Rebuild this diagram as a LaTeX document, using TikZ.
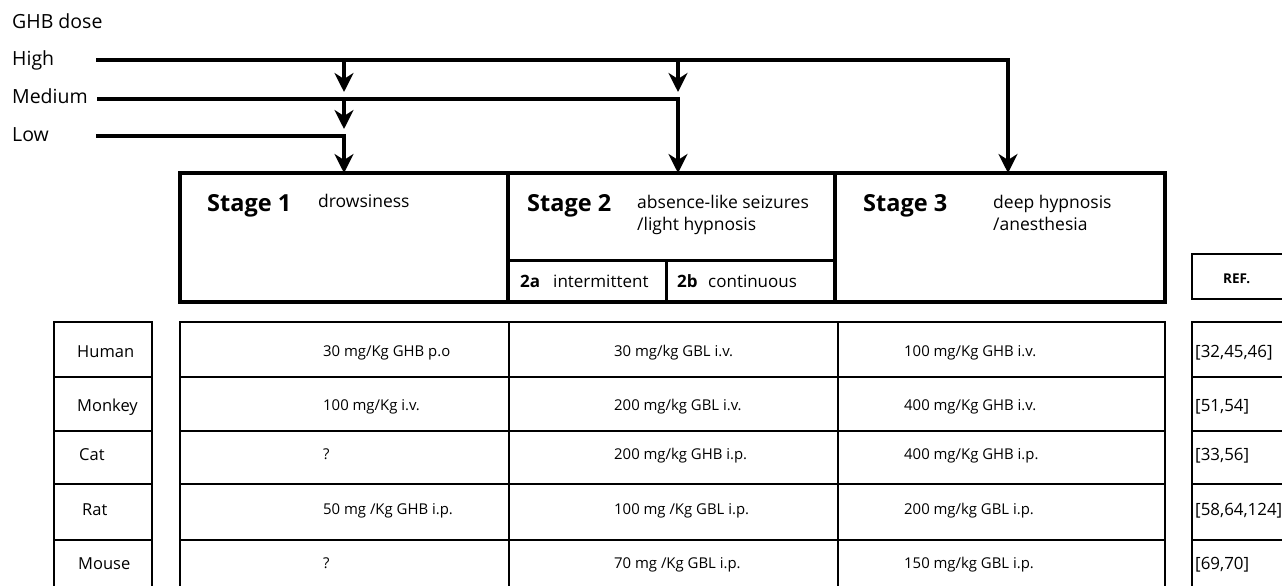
\documentclass[tikz,border=0pt]{standalone}
\usepackage{fontspec}
\setmainfont{Open Sans}
\usetikzlibrary{arrows.meta,positioning}

\tikzset{
  doseline/.style={line width=4pt},
  dosearrow/.style={line width=4pt, -{Stealth[length=19pt,width=19pt,inset=6pt]}},
  doselabel/.style={anchor=base west, inner sep=0pt, font=\fontsize{19.5}{23}\selectfont},
  stagecell/.style={draw, line width=4pt, anchor=north west, inner sep=0pt, outer sep=0pt, minimum height=129pt},
  subcell/.style={draw, line width=3pt, anchor=north west, inner sep=0pt, outer sep=0pt, minimum height=42pt},
  stagetitle/.style={anchor=base west, inner sep=0pt, font=\bfseries\fontsize{23.5}{27}\selectfont},
  stagetext/.style={anchor=base west, inner sep=0pt, align=left, font=\fontsize{17.5}{22.5}\selectfont},
  subtext/.style={anchor=base west, inner sep=0pt, font=\fontsize{17}{20}\selectfont},
  cell/.style={draw, line width=2.5pt, anchor=north west, inner sep=0pt, outer sep=0pt},
  speciestext/.style={anchor=base west, inner sep=0pt, font=\fontsize{16.5}{20}\selectfont},
  dosetext/.style={anchor=base west, inner sep=0pt, font=\fontsize{14.9}{18}\selectfont},
  reftext/.style={anchor=base west, inner sep=0pt, font=\fontsize{16.9}{20}\selectfont}
}

\begin{document}
\begin{tikzpicture}[x=1pt, y=-1pt]
\useasboundingbox (0,0) rectangle (1282,586);
\clip (0,0) rectangle (1282,586);

% dose levels
\node[doselabel] (ghb) at (12,29) {GHB dose};
\node[doselabel] (high) at (12,66) {High};
\node[doselabel] (medium) at (12,103) {Medium};
\node[doselabel] (low) at (12,141) {Low};

% stage boxes
\node[stagecell, minimum width=328pt] (s1) at (180,173) {};
\node[stagecell, minimum width=327pt] (s2) at (508,173) {};
\node[stagecell, minimum width=330pt] (s3) at (835,173) {};
\node[subcell, minimum width=158pt] (s2a) at (508,260) {};
\node[subcell, minimum width=169pt] (s2b) at (666,260) {};

\node[stagetitle] (t1) at (207,211) {Stage 1};
\node[stagetext] (d1) at (318,207) {drowsiness};
\node[stagetitle] (t2) at (527,211) {Stage 2};
\node[stagetext] (d2) at (637,230.5) {absence-like seizures\\/light hypnosis};
\node[stagetitle] (t3) at (863,211) {Stage 3};
\node[stagetext] (d3) at (993,230.5) {deep hypnosis\\/anesthesia};
\node[subtext, font=\bfseries\fontsize{17}{20}\selectfont] (k2a) at (520,287) {2a};
\node[subtext] (t2a) at (553,287) {intermittent};
\node[subtext, font=\bfseries\fontsize{17}{20}\selectfont] (k2b) at (677,287) {2b};
\node[subtext] (t2b) at (708,287) {continuous};

% dose connectors
\coordinate (hi0) at (96,60);
\coordinate (hi3) at (1008,60);
\coordinate (me0) at (97,99);
\coordinate (me2) at (678,99);
\coordinate (lo0) at (96,136);
\coordinate (lo1) at (344,136);
\coordinate (hi1) at (344,60);
\coordinate (hi2) at (678,60);
\coordinate (me1) at (344,99);

\draw[dosearrow] (hi0) -- (hi3) -- (hi3 |- s3.north);
\draw[dosearrow] (me0) -- (me2) -- (me2 |- s2.north);
\draw[dosearrow] (lo0) -- (lo1) -- (lo1 |- s1.north);
\draw[dosearrow] (hi1) -- ++(0,32);
\draw[dosearrow] (me1) -- ++(0,30);
\draw[dosearrow] (hi2) -- ++(0,32);

% reference header
\node[cell, minimum width=100pt, minimum height=45pt] (refhead) at (1192,254) {};
\node[anchor=base west, inner sep=0pt, font=\bfseries\fontsize{13.5}{15}\selectfont] (reflabel) at (1223,283) {REF.};

% table rows
\foreach \sp/\sx/\top/\h/\bl/\da/\db/\dc/\rf [count=\i from 0] in {
  {Human}/77/322/55/357/{30 mg/Kg GHB p.o}/{30 mg/kg GBL i.v.}/{100 mg/Kg GHB i.v.}/{[32,45,46]},
  {Monkey}/77/377/54/411/{100 mg/Kg i.v.}/{200 mg/kg GBL i.v.}/{400 mg/Kg GHB i.v.}/{[51,54]},
  {Cat}/79/431/53/460/{?}/{200 mg/kg GHB i.p.}/{400 mg/Kg GHB i.p.}/{[33,56]},
  {Rat}/82/484/56/515/{50 mg /Kg GHB i.p.}/{100 mg /Kg GBL i.p.}/{200 mg/kg GBL i.p.}/{[58,64,124]},
  {Mouse}/78/540/56/569/{?}/{70 mg /Kg GBL i.p.}/{150 mg/kg GBL i.p.}/{[69,70]}}
{
  \node[cell, minimum width=98pt, minimum height=\h pt] (sp\i) at (54,\top) {};
  \node[cell, minimum width=329pt, minimum height=\h pt] (ca\i) at (180,\top) {};
  \node[cell, minimum width=329pt, minimum height=\h pt] (cb\i) at (509,\top) {};
  \node[cell, minimum width=327pt, minimum height=\h pt] (cc\i) at (838,\top) {};
  \node[cell, minimum width=100pt, minimum height=\h pt] (cr\i) at (1192,\top) {};
  \node[speciestext] (tsp\i) at (\sx,\bl) {\sp};
  \node[dosetext] (tda\i) at (323,\bl-1) {\da};
  \node[dosetext] (tdb\i) at (614,\bl-1) {\db};
  \node[dosetext] (tdc\i) at (904,\bl-1) {\dc};
  \node[reftext] (trf\i) at (1195,\bl) {\rf};
}
\end{tikzpicture}
\end{document}
